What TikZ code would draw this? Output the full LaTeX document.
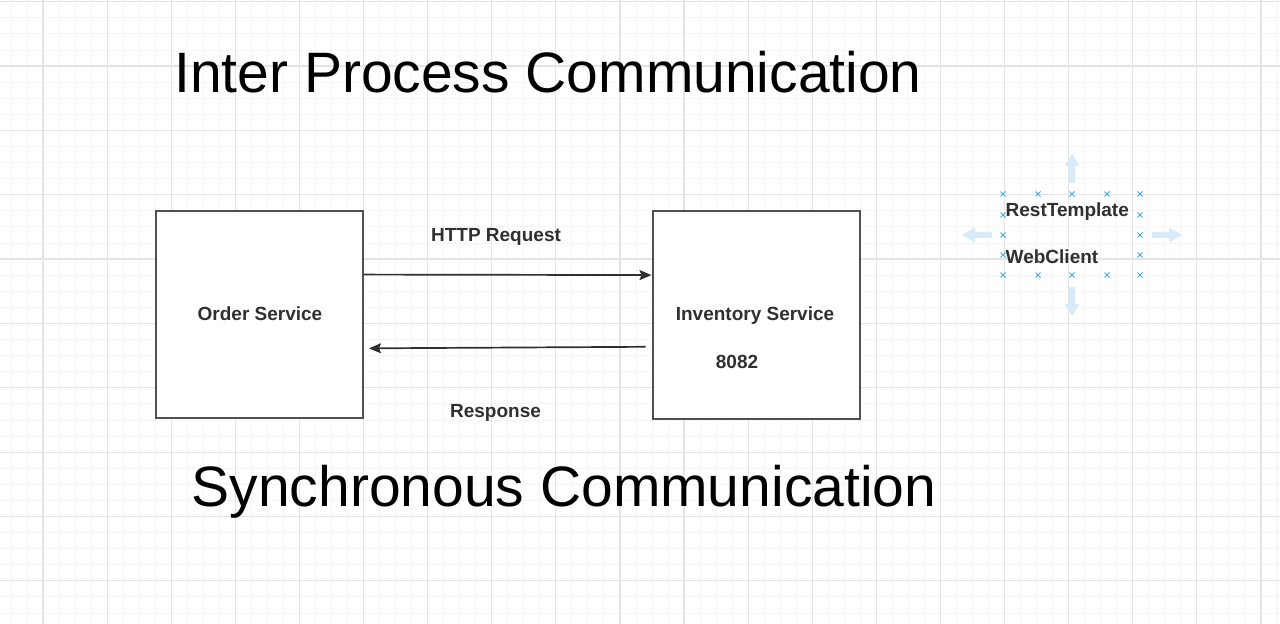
\documentclass[tikz,border=0pt]{standalone}
\usepackage{fontspec}
\setmainfont{Liberation Sans}
\usetikzlibrary{arrows.meta,calc}
\definecolor{gridmajor}{HTML}{E4E4E4}
\definecolor{gridminor}{HTML}{F5F5F5}
\definecolor{boxline}{HTML}{505050}
\definecolor{txt}{HTML}{303030}
\definecolor{selblue}{HTML}{3FA9E0}
\definecolor{hoverblue}{HTML}{D6EAF8}
\tikzset{
  minorline/.style={draw=gridminor,line width=0.8bp},
  majorline/.style={draw=gridmajor,line width=1.2bp},
  servicebox/.style={draw=boxline,line width=2bp,fill=white,minimum width=207bp,minimum height=207bp,inner sep=0pt},
  lbl/.style={font=\bfseries\fontsize{19bp}{22bp}\selectfont,text=txt,inner sep=0pt,anchor=base},
  title/.style={font=\fontsize{57bp}{62bp}\selectfont,text=black,inner sep=0pt,anchor=base},
  conn/.style={draw=txt,line width=1.7bp,-{Stealth[length=12bp,width=10bp,inset=2bp]}},
  selmark/.style={draw=selblue,line width=0.9bp},
  hover/.style={fill=hoverblue,draw=none},
}
\newcommand{\selx}[2]{\draw[selmark] (#1-2.5,#2-2.5) -- (#1+2.5,#2+2.5) (#1-2.5,#2+2.5) -- (#1+2.5,#2-2.5);}
\begin{document}
\begin{tikzpicture}[x=1bp,y=-1bp]
\useasboundingbox (0,0) rectangle (1280,624);
\fill[white] (0,0) rectangle (1280,624);
% grid
\foreach \i in {-3,...,77} \draw[minorline] ({43+16.025*\i},0) -- ({43+16.025*\i},624);
\foreach \i in {-4,...,36} \draw[minorline] (0,{66+16.0875*\i}) -- (1280,{66+16.0875*\i});
\foreach \i in {-1,...,19} \draw[majorline] ({43+64.1*\i},0) -- ({43+64.1*\i},624);
\foreach \i in {-1,...,9} \draw[majorline] (0,{66+64.35*\i}) -- (1280,{66+64.35*\i});

% titles
\node[title] (t1) at (548,93) {Inter Process Communication};
\node[title] (t2) at (564,506) {Synchronous Communication};

% boxes
\node[servicebox] (order) at (259.5,314.5) {};
\node[servicebox] (inv) at (756,315) {};
\node[lbl] (orderlbl) at (260,321) {Order Service};
\node[lbl] (invlbl) at (755,321) {Inventory Service};
\node[lbl] (port) at (737,369) {8082};

% connectors
\draw[conn] ($(order.north east)!0.309!(order.south east)$) -- ($(inv.north west)!0.309!(inv.south west)$);
\draw[conn,shorten <=6bp,shorten >=5bp] ($(inv.north west)!0.652!(inv.south west)$) -- ($(order.north east)!0.662!(order.south east)$);
\node[lbl] (req) at (496,242) {HTTP Request};
\node[lbl] (resp) at (495.5,417) {Response};

% hover arrows
\path[hover] (1069,183) -- (1069,166) -- (1064.5,166) -- (1072,154) -- (1079.5,166) -- (1075,166) -- (1075,183) -- cycle;
\path[hover] (1069,287) -- (1069,304) -- (1064.5,304) -- (1072,316) -- (1079.5,304) -- (1075,304) -- (1075,287) -- cycle;
\path[hover] (992,232) -- (975,232) -- (975,227.5) -- (962,235) -- (975,242.5) -- (975,238) -- (992,238) -- cycle;
\path[hover] (1152,232) -- (1169,232) -- (1169,227.5) -- (1182,235) -- (1169,242.5) -- (1169,238) -- (1152,238) -- cycle;

% selection markers
\foreach \x in {1003,1038,1072,1107,1140} {\selx{\x}{194}\selx{\x}{275}}
\foreach \y in {215,235,255} {\selx{1003}{\y}\selx{1140}{\y}}

\node[lbl,anchor=base west] (rt) at (1005.5,217) {RestTemplate};
\node[lbl,anchor=base west] (wc) at (1005.5,264) {WebClient};
\end{tikzpicture}
\end{document}
